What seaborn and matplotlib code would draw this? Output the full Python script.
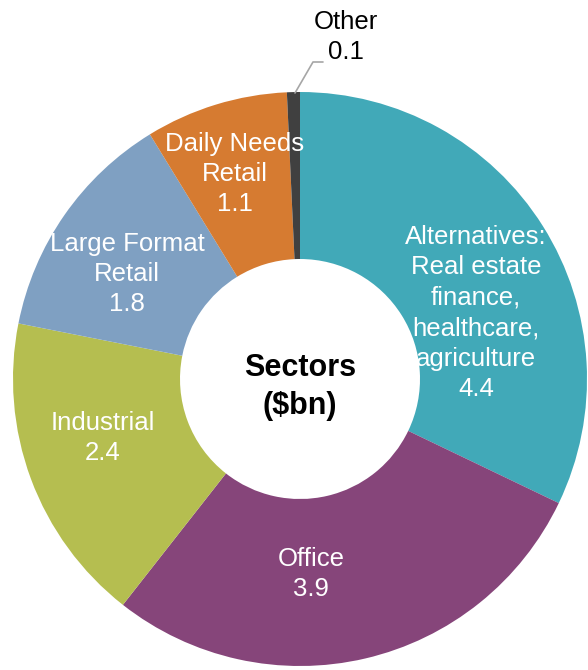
import numpy as np
import matplotlib
matplotlib.use("Agg")
import matplotlib.pyplot as plt
import seaborn as sns

sectors = ["Alternatives:\nReal estate\nfinance,\nhealthcare,\nagriculture",
           "Office", "Industrial", "Large Format\nRetail", "Daily Needs\nRetail", "Other"]
values = [4.4, 3.9, 2.4, 1.8, 1.1, 0.1]
colors = ["#41A9B8", "#86457A", "#B5BE50", "#7FA0C2", "#D67B31", "#404040"]

# label centres in pixels (x, y from top), Excel placed them by hand
label_pos = [(476, 313), (311, 574), (103, 438), (127, 274), (235, 174), (346, 37)]

W, H = 588, 670
cx, cy = 300, 379
r_out, r_in = 287, 120

sns.set_theme(style="white")
plt.rcParams['font.family'] = ['Liberation Sans', 'DejaVu Sans']

fig = plt.figure(figsize=(W / 100, H / 100), dpi=100)
ax = fig.add_axes([0, 0, 1, 1])

pal = sns.color_palette(colors)
ax.pie(values, colors=pal, startangle=90, counterclock=False,
       center=(cx, H - cy), radius=r_out, frame=True,
       wedgeprops=dict(width=r_out - r_in, linewidth=0))
ax.set_xlim(0, W)
ax.set_ylim(0, H)
ax.set_aspect('equal')
ax.axis('off')

for name, val, (lx, ly), col in zip(sectors, values, label_pos, colors):
    tc = 'black' if name == "Other" else 'white'
    ax.text(lx, H - ly, f"{name}\n{val}", ha='center', va='center', color=tc,
            fontsize=18.5, linespacing=1.34)

# leader line for the tiny slice
ax.plot([295, 313, 323], [H - 93, H - 62, H - 62], color='#A6A6A6', lw=1.2)

ax.text(cx, H - 387, "Sectors\n($bn)", ha='center', va='center',
        fontsize=22, fontweight='bold', color='black', linespacing=1.35)

fig.savefig("out.png", dpi=100)
